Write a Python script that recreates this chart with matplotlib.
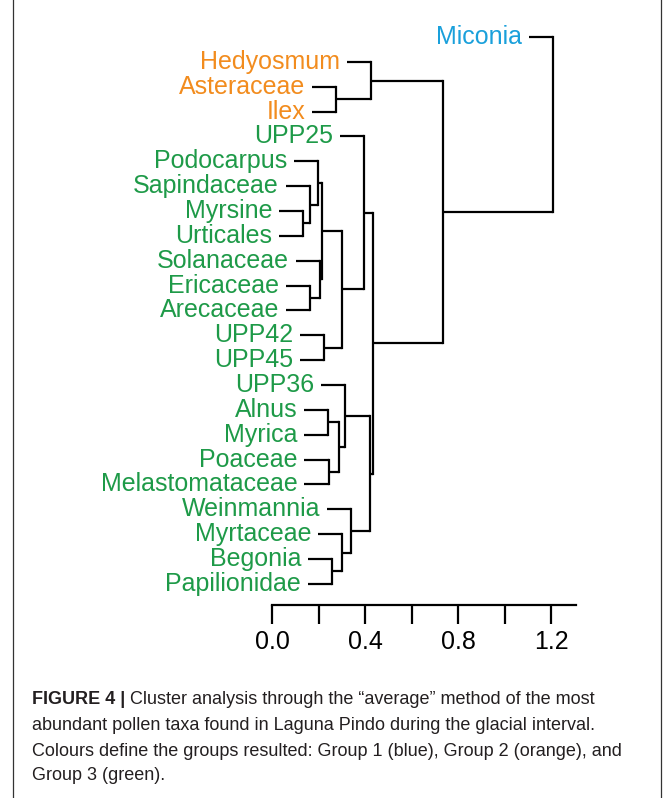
import matplotlib
matplotlib.use("Agg")
import matplotlib.pyplot as plt
from matplotlib import font_manager

# ---------------- data ----------------
labels = ["Miconia", "Hedyosmum", "Asteraceae", "Ilex", "UPP25", "Podocarpus",
          "Sapindaceae", "Myrsine", "Urticales", "Solanaceae", "Ericaceae",
          "Arecaceae", "UPP42", "UPP45", "UPP36", "Alnus", "Myrica", "Poaceae",
          "Melastomataceae", "Weinmannia", "Myrtaceae", "Begonia", "Papilionidae"]
groups = [1, 2, 2, 2, 3, 3, 3, 3, 3, 3, 3, 3, 3, 3, 3, 3, 3, 3, 3, 3, 3, 3, 3]
group_colors = {1: "#1AA0DB", 2: "#F28C1E", 3: "#1E9A48"}

# linkage-like merges: (child_a, child_b, height); ids >= 23 refer to earlier merges
merge_a = [7, 6, 5, 10, 9, 25, 12, 15, 17, 21, 2, 30, 28, 20, 14, 19, 4, 37, 1, 39, 41, 0]
merge_b = [8, 23, 24, 11, 26, 27, 13, 16, 18, 22, 3, 31, 29, 32, 34, 36, 35, 38, 33, 40, 42, 43]
merge_h = [0.132, 0.162, 0.197, 0.162, 0.205, 0.214, 0.223, 0.240, 0.243, 0.257,
           0.274, 0.287, 0.300, 0.300, 0.313, 0.339, 0.395, 0.421, 0.425, 0.434,
           0.737, 1.209]
hang = 0.105

tick_values = [0.0, 0.2, 0.4, 0.6, 0.8, 1.0, 1.2]
tick_labels = ["0.0", "", "0.4", "", "0.8", "", "1.2"]

caption_bold = "FIGURE 4 |"
caption_lines = [
    " Cluster analysis through the \u201caverage\u201d method of the most",
    "abundant pollen taxa found in Laguna Pindo during the glacial interval.",
    "Colours define the groups resulted: Group 1 (blue), Group 2 (orange), and",
    "Group 3 (green).",
]

# ---------------- figure ----------------
W, H = 672, 798
fig = plt.figure(figsize=(W / 100, H / 100), dpi=100)

avail = {f.name for f in font_manager.fontManager.ttflist}
label_font = "Liberation Sans" if "Liberation Sans" in avail else "DejaVu Sans"
cap_font = "Liberation Sans Narrow" if "Liberation Sans Narrow" in avail else label_font

# axes placement in pixels
ax_left, ax_right, ax_top, ax_bot = 20, 640, 20, 605
ax = fig.add_axes([ax_left / W, 1 - ax_bot / H, (ax_right - ax_left) / W, (ax_bot - ax_top) / H])
x0_px, unit_px = 272.3, 232.2
ax.set_xlim((ax_left - x0_px) / unit_px, (ax_right - x0_px) / unit_px)
row_px, y0_px = 24.86, 37
ax.set_ylim((ax_bot - y0_px) / row_px, (ax_top - y0_px) / row_px)

n = len(labels)
node_y = {i: float(i) for i in range(n)}
node_h = {}
lw = 1.6
for k, (a, b, h) in enumerate(zip(merge_a, merge_b, merge_h)):
    nid = n + k
    for c in (a, b):
        if c < n:
            cx = h - hang
            ax.text(cx - 0.028, node_y[c], labels[c], ha="right", va="center",
                    fontsize=18, color=group_colors[groups[c]], family=label_font)
        else:
            cx = node_h[c]
        ax.plot([cx, h], [node_y[c], node_y[c]], color="black", lw=lw,
                solid_capstyle="butt", solid_joinstyle="miter")
    ax.plot([h, h], [node_y[a], node_y[b]], color="black", lw=lw, solid_capstyle="projecting")
    node_y[nid] = (node_y[a] + node_y[b]) / 2
    node_h[nid] = h

for s in ("top", "right", "left"):
    ax.spines[s].set_visible(False)
ax.spines["bottom"].set_bounds(0, 1.31)
ax.spines["bottom"].set_linewidth(1.6)
ax.set_yticks([])
ax.set_xticks(tick_values)
ax.set_xticklabels(tick_labels, fontsize=18, family=label_font)
ax.tick_params(axis="x", direction="out", length=14, width=1.6, pad=4)
ax.patch.set_alpha(0)

# border of the figure panel
bx_l, bx_r = 13 / W, 661 / W
fig.add_artist(plt.Line2D([bx_l, bx_l], [0, 1], color="#333333", lw=0.9))
fig.add_artist(plt.Line2D([bx_r, bx_r], [0, 1], color="#333333", lw=0.9))

# caption
cap_x = 32 / W
cap_size = 13
line_ys = [700, 726, 751, 776]
t = fig.text(cap_x, 1 - line_ys[0] / H, caption_bold, fontsize=cap_size, weight="bold",
             family=cap_font, va="center", ha="left", color="#231F20")
fig.canvas.draw()
bb = t.get_window_extent(fig.canvas.get_renderer())
fig.text(bb.x1 / W, 1 - line_ys[0] / H, caption_lines[0], fontsize=cap_size,
         family=cap_font, va="center", ha="left", color="#231F20")
for ly, txt in zip(line_ys[1:], caption_lines[1:]):
    fig.text(cap_x, 1 - ly / H, txt, fontsize=cap_size, family=cap_font,
             va="center", ha="left", color="#231F20")

fig.savefig("out.png", dpi=100)
